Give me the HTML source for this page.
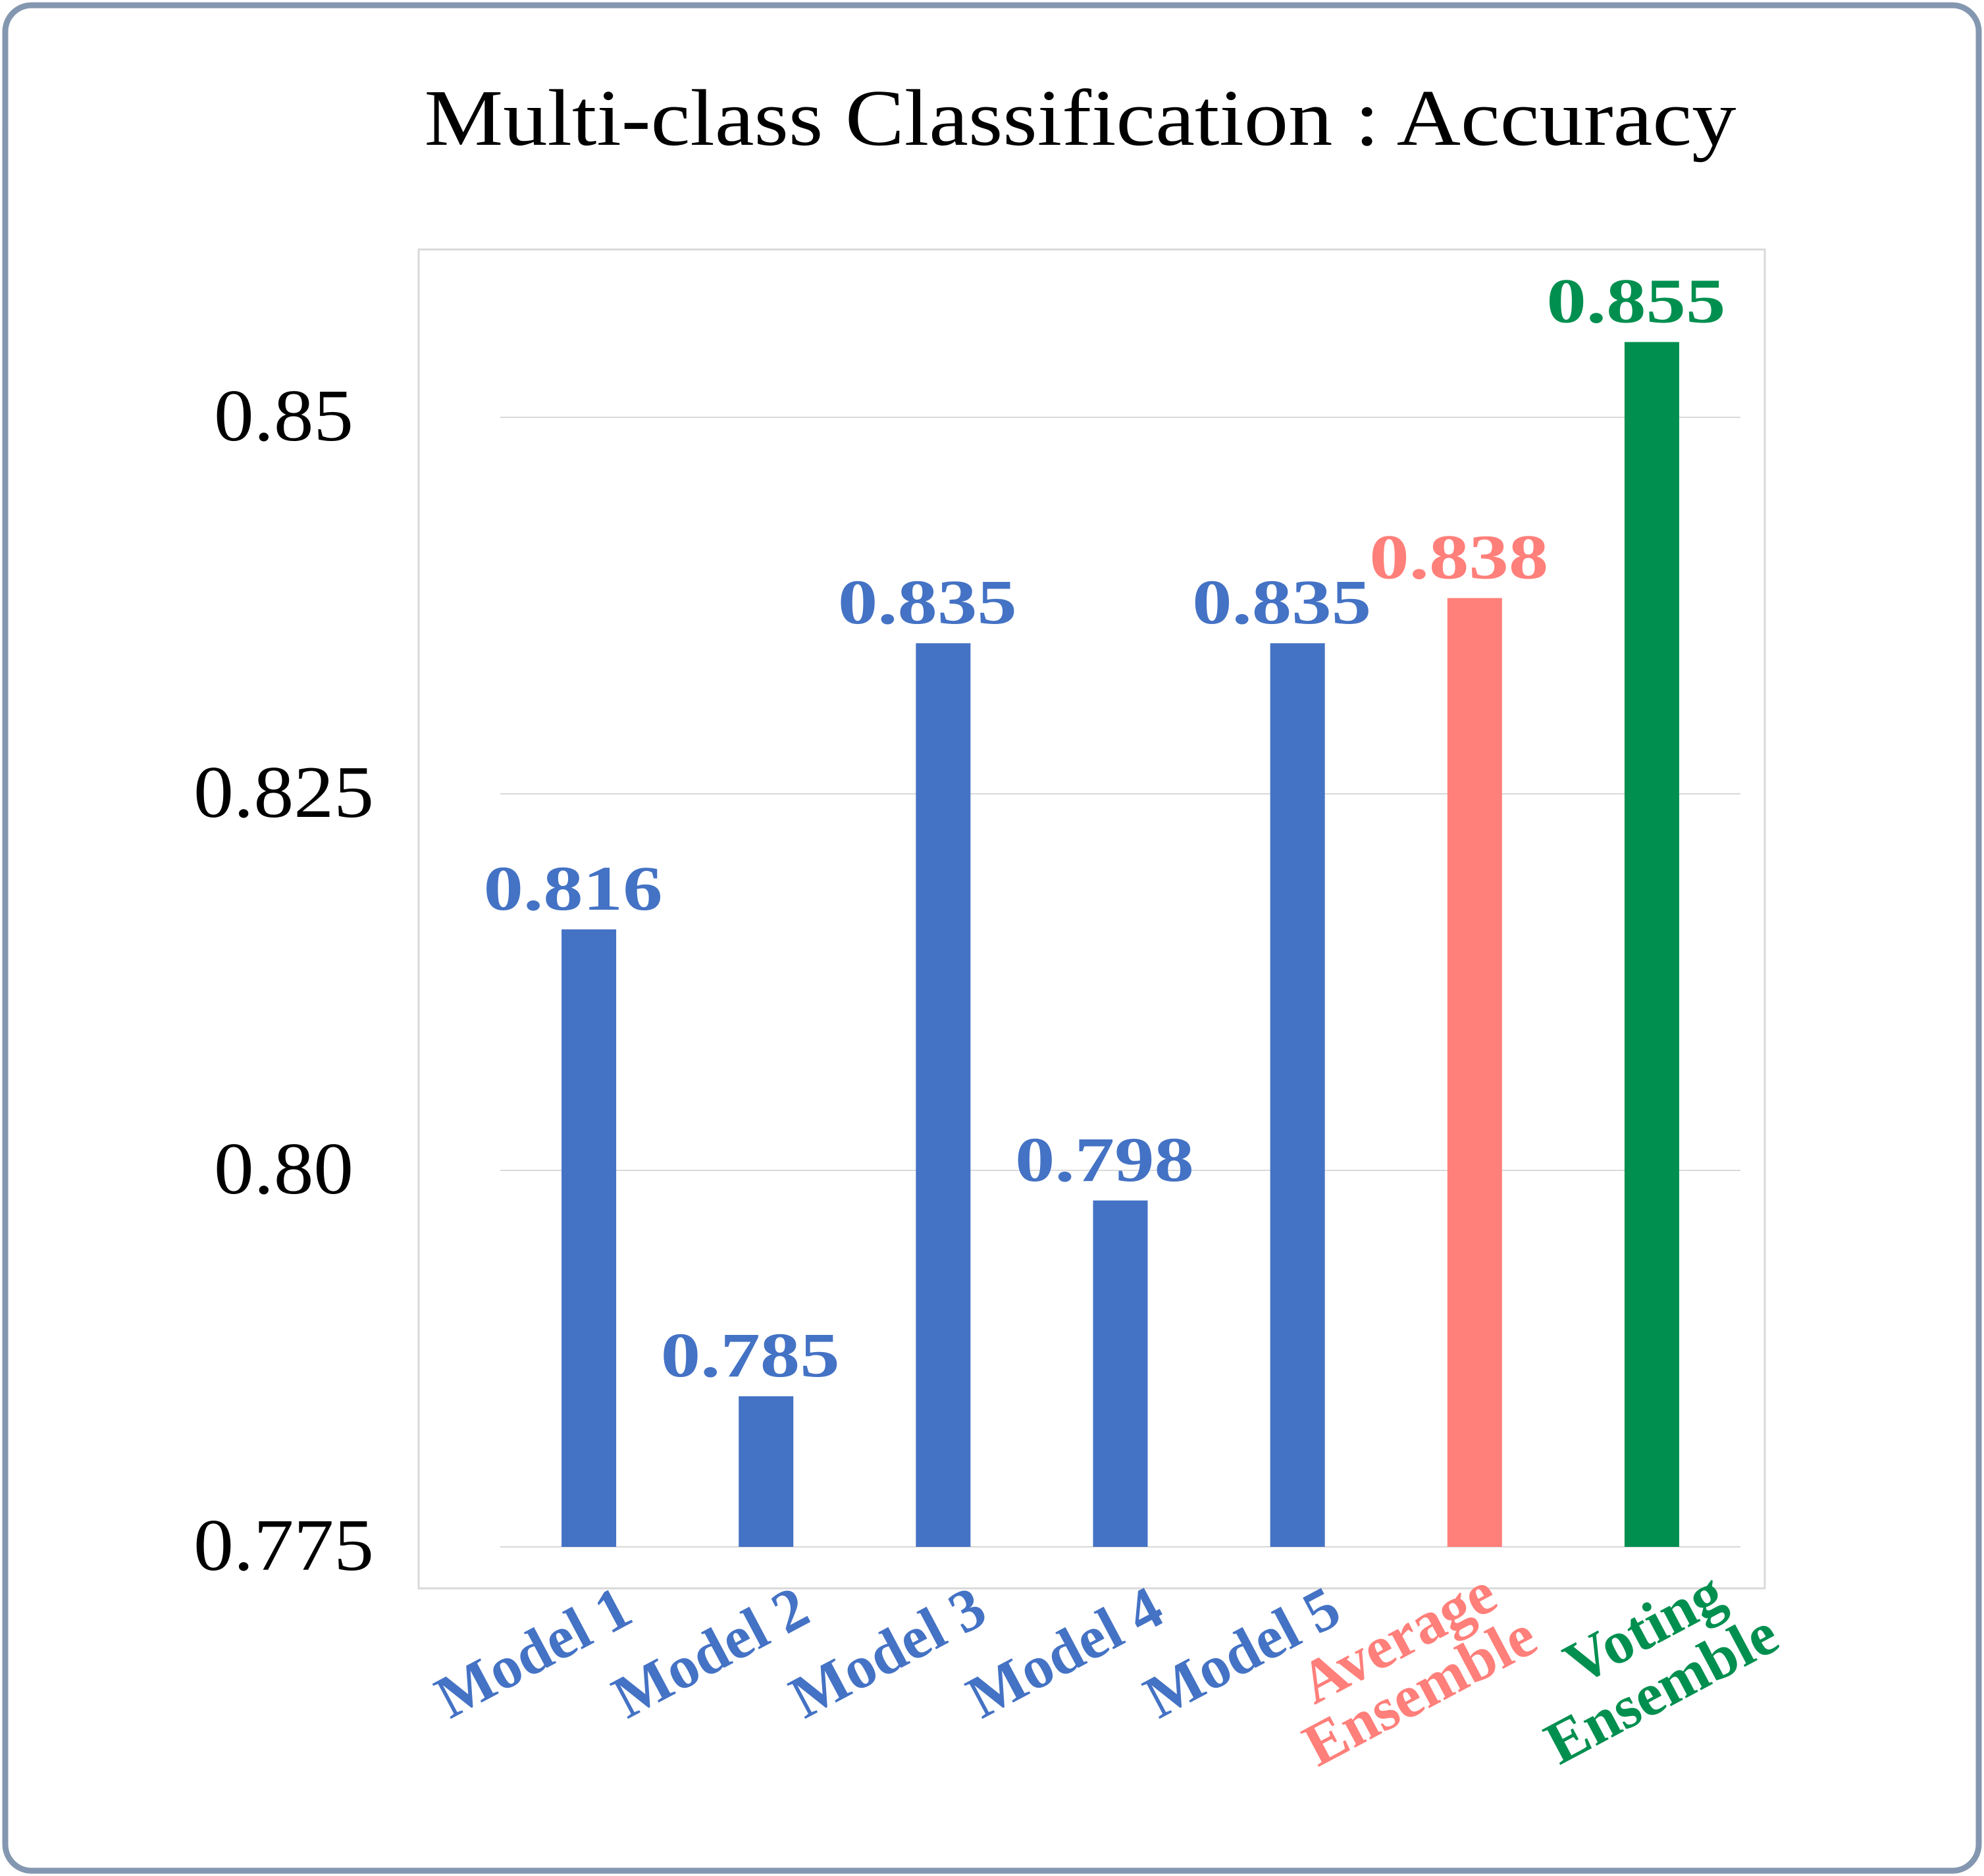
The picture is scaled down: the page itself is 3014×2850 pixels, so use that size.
<!DOCTYPE html>
<html><head><meta charset="utf-8"><style>
html,body{margin:0;padding:0;background:#fff;}
svg{display:block;}
text{font-family:"Liberation Serif","DejaVu Serif",serif;}
</style></head><body>
<svg id="chart" width="3014" height="2850" viewBox="0 0 3014 2850" xmlns="http://www.w3.org/2000/svg">
<rect x="8" y="8" width="2998" height="2834" rx="40" ry="40" fill="#fff" stroke="#8497b0" stroke-width="9"/>
<text x="1641" y="220" text-anchor="middle" font-size="122" fill="#000" textLength="1993" lengthAdjust="spacingAndGlyphs">Multi-class Classification : Accuracy</text>
<rect x="636" y="379" width="2045" height="2034" fill="none" stroke="#d9d9d9" stroke-width="3"/>
<g id="grid"></g><g id="yticks"></g><g id="bars"></g><g id="vlabels"></g><g id="xlabels"></g>
</svg>
<script>
const categories=[["Model 1"],["Model 2"],["Model 3"],["Model 4"],["Model 5"],["Average","Ensemble"],["Voting","Ensemble"]];
const values=[0.816,0.785,0.835,0.798,0.835,0.838,0.855];
const valueLabels=["0.816","0.785","0.835","0.798","0.835","0.838","0.855"];
const colors=["#4472c4","#4472c4","#4472c4","#4472c4","#4472c4","#ff7f7a","#008f4f"];
const yTicks=[0.775,0.80,0.825,0.85];
const yTickLabels=["0.775","0.80","0.825","0.85"];
const NS="http://www.w3.org/2000/svg";
const yMin=0.775,yMax=0.85,yPix0=2350,yPix1=634;
function y(v){return yPix0+(v-yMin)/(yMax-yMin)*(yPix1-yPix0);}
const x0=760,x1=2644,band=(x1-x0)/categories.length,barW=83;
function xc(i){return x0+band*(i+0.5);}
function mk(tag,attrs,parent){const e=document.createElementNS(NS,tag);for(const k in attrs)e.setAttribute(k,attrs[k]);document.getElementById(parent).appendChild(e);return e;}
yTicks.forEach((t,i)=>{
  const g=mk('line',{x1:x0,x2:x1,y1:y(t),y2:y(t),stroke:'#d9d9d9','stroke-width':2},'grid');
  
  
  const txt=yTickLabels[i];
  const tx=mk('text',{x:431,y:y(t)+35,'text-anchor':'middle','font-size':112,fill:'#000',textLength:txt.length>4?274:212,lengthAdjust:'spacingAndGlyphs'},'yticks');
  tx.textContent=txt;
  
  
});
// label line end offsets (layout only)
const lblOff=[[[71,2462]],[[71,2462]],[[71,2462]],[[71,2462]],[[71,2462]],[[39,2440],[100,2505]],[[116,2440],[198,2502]]];
values.forEach((v,i)=>{
  const b=mk('rect',{x:xc(i)-barW/2,y:y(v),width:barW,height:yPix0-y(v),fill:colors[i]},'bars');
  
  
  const t=mk('text',{x:xc(i)-24,y:y(v)-30,'text-anchor':'middle','font-size':96,'font-weight':'bold',fill:colors[i],textLength:272,lengthAdjust:'spacingAndGlyphs'},'vlabels');
  t.textContent=valueLabels[i];
  
  
  categories[i].forEach((line,j)=>{
    const o=lblOff[i][j];
    const px=xc(i)+o[0],py=o[1];
    const l=mk('text',{x:px,y:py,'text-anchor':'end','font-size':92,'font-weight':'bold',fill:colors[i],transform:`rotate(-28 ${px} ${py})`},'xlabels');
    l.textContent=line;
    
    
  });
});
</script>
</body></html>
